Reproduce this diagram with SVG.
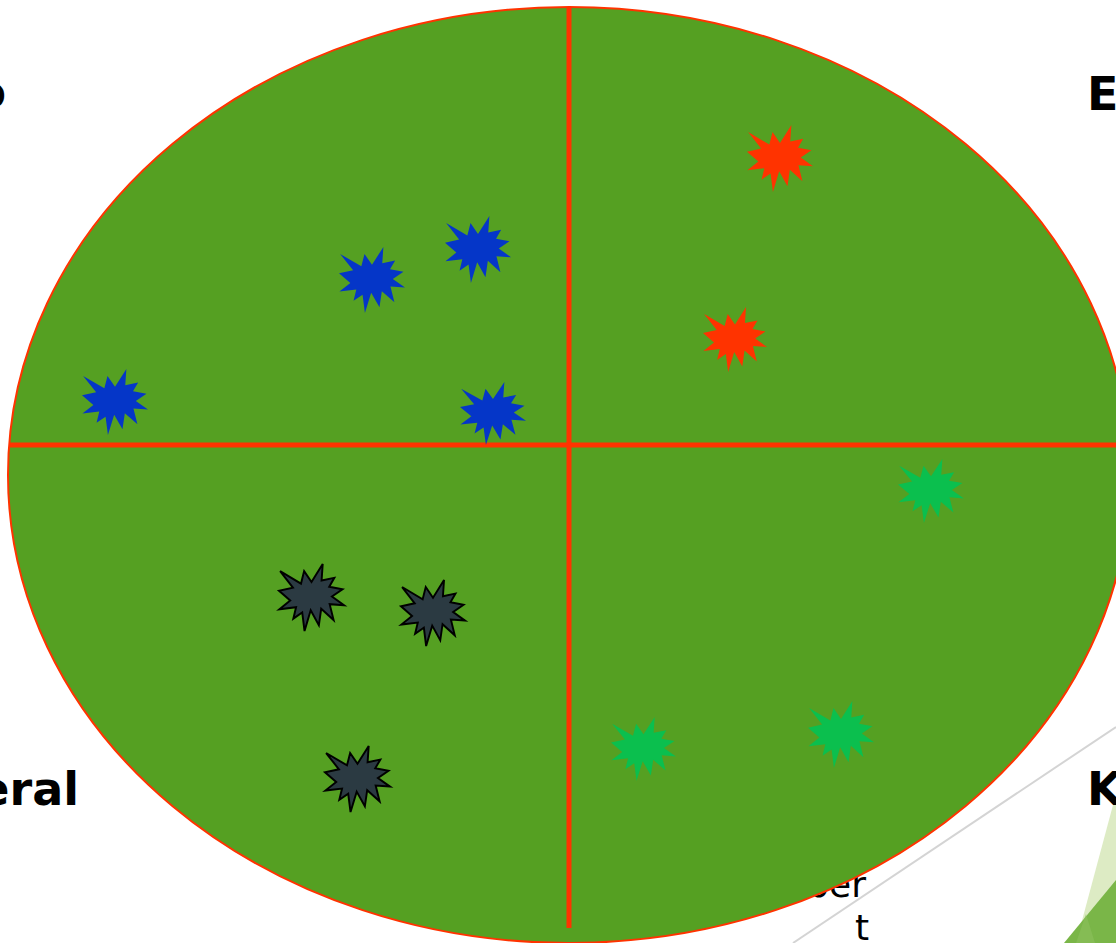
<svg xmlns="http://www.w3.org/2000/svg" xmlns:xlink="http://www.w3.org/1999/xlink" width="1116" height="943" viewBox="0 0 1116 943">
<style>
.lbl{font-family:"DejaVu Sans",Verdana,sans-serif;font-weight:bold;font-size:46px;fill:#000}
.txt{font-family:"DejaVu Sans",Verdana,sans-serif;font-size:36px;fill:#000}
.axis{stroke:#FF3300;stroke-width:5;fill:none}
.red{fill:#FF3300}
.blue{fill:#0536C8}
.green{fill:#0BBF4E}
.dark{fill:#2B3A42;stroke:#000;stroke-width:3;stroke-linejoin:miter}
</style>
<defs>
<polygon id="star" points="50,26.85 67.23,0 65.53,24.65 85.09,20.63 77.32,33.86 97.67,37.67 81.51,48.5 100,61.53 77.95,59.92 84,83.77 64.91,66.93 61.33,91.38 48.76,69.14 39.28,100 35.72,72.35 22.05,81.56 26.24,64.52 0.63,67.53 17.23,54.51 0,39.88 21.42,35.26 1.71,10.63 33.85,29.26 38.67,10.63"/>
</defs>
<rect width="1116" height="943" fill="#fff"/>
<g id="background-deco">
<line x1="793" y1="943" x2="1116" y2="727" stroke="#d4d4d4" stroke-width="2"/>
<polygon points="1113,805 1116,805 1116,943 1076,943" fill="#DDEBC4"/>
<polygon points="1116,880 1116,943 1064,943" fill="#7AB648"/>
<polygon points="1086,914 1095,943 1076,943" fill="#8CC05E" opacity="0.6"/>
</g>
<g id="labels-behind">
<text class="txt" x="866" y="897" text-anchor="end">ber</text>
<text class="txt" x="869" y="940" text-anchor="end">t</text>
</g>
<g id="field">
<ellipse cx="569" cy="475" rx="561" ry="468" fill="#55A022" stroke="#FF3300" stroke-width="2"/>
</g>
<g id="connectors">
<line class="axis" x1="569" y1="7" x2="569" y2="928"/>
<line class="axis" x1="10" y1="445" x2="1116" y2="445"/>
</g>
<g id="star-red-1"><use xlink:href="#star" class="red" transform="translate(747,125) scale(0.66,0.67)"/></g>
<g id="star-red-2"><use xlink:href="#star" class="red" transform="translate(703,307) scale(0.64,0.65)"/></g>
<g id="star-blue-1"><use xlink:href="#star" class="blue" transform="translate(339,247) scale(0.66,0.66)"/></g>
<g id="star-blue-2"><use xlink:href="#star" class="blue" transform="translate(445,216) scale(0.66,0.67)"/></g>
<g id="star-blue-3"><use xlink:href="#star" class="blue" transform="translate(82,369) scale(0.66,0.66)"/></g>
<g id="star-blue-4"><use xlink:href="#star" class="blue" transform="translate(460,382) scale(0.66,0.63)"/></g>
<g id="star-green-1"><use xlink:href="#star" class="green" transform="translate(898,459) scale(0.66,0.64)"/></g>
<g id="star-green-2"><use xlink:href="#star" class="green" transform="translate(611,717) scale(0.65,0.64)"/></g>
<g id="star-green-3"><use xlink:href="#star" class="green" transform="translate(808,701) scale(0.66,0.67)"/></g>
<g id="star-dark-1"><use xlink:href="#star" class="dark" transform="translate(279,564) scale(0.65,0.67)"/></g>
<g id="star-dark-2"><use xlink:href="#star" class="dark" transform="translate(401,580) scale(0.64,0.66)"/></g>
<g id="star-dark-3"><use xlink:href="#star" class="dark" transform="translate(325,746) scale(0.65,0.66)"/></g>
<g id="labels">
<text class="lbl" x="6" y="108" text-anchor="end">o</text>
<text class="lbl" x="1087" y="110">E</text>
<text class="lbl" x="79" y="805" text-anchor="end">eral</text>
<text class="lbl" x="1087" y="805">K</text>
</g>
</svg>
